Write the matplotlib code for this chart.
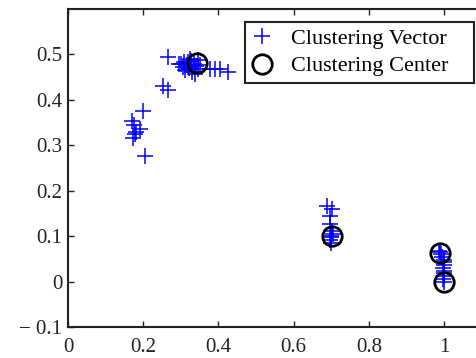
import matplotlib
matplotlib.use("Agg")
import matplotlib.pyplot as plt

# Clustering vectors (blue crosses)
vec_x = [0.266, 0.300, 0.316, 0.305, 0.312, 0.322, 0.328, 0.334, 0.340, 0.346, 0.352, 0.330, 0.338,
         0.318, 0.345, 0.325, 0.295, 0.308, 0.378, 0.391, 0.404, 0.426,
         0.253, 0.266, 0.200, 0.170, 0.191, 0.178, 0.173, 0.205, 0.180, 0.176,
         0.689, 0.702, 0.697, 0.697, 0.700, 0.698, 0.704, 0.700, 0.702, 0.699,
         1.000, 0.998, 1.000, 0.999, 1.000, 0.998, 1.000, 0.999, 1.000, 0.996, 0.992, 0.990, 0.988]
vec_y = [0.495, 0.480, 0.476, 0.472, 0.466, 0.470, 0.486, 0.478, 0.474, 0.468, 0.476, 0.462, 0.458,
         0.484, 0.488, 0.490, 0.478, 0.484, 0.469, 0.469, 0.469, 0.462,
         0.431, 0.422, 0.376, 0.353, 0.336, 0.324, 0.316, 0.276, 0.330, 0.345,
         0.167, 0.160, 0.144, 0.127, 0.100, 0.092, 0.105, 0.085, 0.112, 0.098,
         0.000, 0.006, 0.012, 0.018, 0.024, 0.030, 0.036, 0.042, 0.048, 0.054, 0.060, 0.064, 0.068]

# Clustering centers (black circles)
ctr_x = [0.343, 0.702, 0.990, 1.000]
ctr_y = [0.482, 0.100, 0.062, 0.000]

xticks = [0, 0.2, 0.4, 0.6, 0.8, 1.0]
xtick_labels = ["0", "0.2", "0.4", "0.6", "0.8", "1"]
yticks = [-0.1, 0, 0.1, 0.2, 0.3, 0.4, 0.5]
ytick_labels = ["\u2212 0.1", "0", "0.1", "0.2", "0.3", "0.4", "0.5"]

plt.rcParams['font.family'] = ['Liberation Serif', 'DejaVu Serif']

fig = plt.figure(figsize=(4.76, 3.58), dpi=100)
ax = fig.add_axes([68/476, 31/358, 1.1*376/476, 318/358])

ax.plot(vec_x, vec_y, linestyle='none', marker='+', color='#0000ff',
        markersize=11, markeredgewidth=1.1, label='Clustering Vector')
ax.plot(ctr_x, ctr_y, linestyle='none', marker='o', markerfacecolor='none',
        markeredgecolor='black', markersize=14, markeredgewidth=2.0, label='Clustering Center')

ax.set_xlim(0, 1.1)
ax.set_ylim(-0.1, 0.6)
ax.set_xticks(xticks)
ax.set_xticklabels(xtick_labels)
ax.set_yticks(yticks)
ax.set_yticklabels(ytick_labels)
ax.tick_params(direction='in', top=True, right=True, length=4, width=1,
               labelsize=15, colors='#222222')
ax.tick_params(axis='x', pad=8)
ax.tick_params(axis='y', pad=4)
for s in ax.spines.values():
    s.set_linewidth(1.5)
    s.set_color('#222222')

leg = ax.legend(loc='upper left', mode='expand',
                bbox_to_anchor=(245/476, 1 - 86/358, 229/476, 64/358),
                bbox_transform=fig.transFigure, borderaxespad=0,
                fancybox=False, edgecolor='#222222', fontsize=16,
                handlelength=0.95, handletextpad=0.8, borderpad=0.3,
                labelspacing=0.3, framealpha=1)
leg.get_frame().set_linewidth(1.5)

fig.savefig('out.png', dpi=100)
